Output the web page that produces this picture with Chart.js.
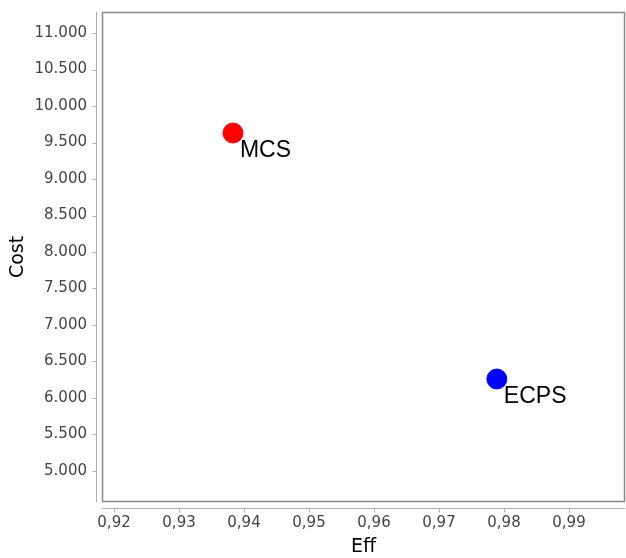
<!DOCTYPE html>
<html>
<head>
<meta charset="utf-8">
<script src="https://cdn.jsdelivr.net/npm/chart.js@4/dist/chart.umd.min.js"></script>
<style>
  html, body { margin: 0; padding: 0; background: #fff; }
  #wrap { width: 626px; height: 558px; }
</style>
</head>
<body>
<div id="wrap"><canvas id="chart" width="626" height="558"></canvas></div>
<script>
// Données
const seriesNames = ["MCS", "ECPS"];
const effValues = [0.9383, 0.9789];
const costValues = [9630, 6260];
const pointColors = ["#ff0000", "#0000ff"];
const xTicks = [0.92, 0.93, 0.94, 0.95, 0.96, 0.97, 0.98, 0.99];
const yTicks = [5000, 5500, 6000, 6500, 7000, 7500, 8000, 8500, 9000, 9500, 10000, 10500, 11000];

const fmtX = v => v.toFixed(2).replace(".", ",");
const fmtY = v => Math.round(v).toString().replace(/\B(?=(\d{3})+(?!\d))/g, ".");

// Cadre du graphe + axes décalés + étiquettes des points
const framePlugin = {
    id: "frame",
    afterDraw(chart) {
        const { ctx, chartArea: a, scales: { x, y } } = chart;
        ctx.save();
        // bordure du plot
        ctx.strokeStyle = "#8a8a8a";
        ctx.lineWidth = 1.5;
        ctx.strokeRect(a.left + 0.5, a.top + 0.5, a.right - a.left - 1, a.bottom - a.top - 1);

        // axe Y décalé
        ctx.strokeStyle = "#b0b0b0";
        ctx.lineWidth = 1;
        const ax = a.left - 5.5;
        ctx.beginPath();
        ctx.moveTo(ax, a.top);
        ctx.lineTo(ax, a.bottom);
        yTicks.forEach(v => {
            const py = Math.round(y.getPixelForValue(v)) + 0.5;
            ctx.moveTo(ax, py);
            ctx.lineTo(ax - 4, py);
        });
        // axe X décalé
        const ay = a.bottom + 6.5;
        ctx.moveTo(a.left, ay);
        ctx.lineTo(a.right, ay);
        xTicks.forEach(v => {
            const px = Math.round(x.getPixelForValue(v)) + 0.5;
            ctx.moveTo(px, ay);
            ctx.lineTo(px, ay + 4);
        });
        ctx.stroke();

        // étiquettes des séries
        const meta = chart.getDatasetMeta(0);
        ctx.fillStyle = "#000";
        ctx.font = "23px 'Liberation Sans', Arial, sans-serif";
        ctx.textAlign = "left";
        ctx.textBaseline = "middle";
        meta.data.forEach((pt, i) => {
            ctx.fillText(seriesNames[i], pt.x + 7, pt.y + 18);
        });
        ctx.restore();
    }
};

const tickFont = { family: "'DejaVu Sans', sans-serif", size: 15 };
const titleFont = { family: "'DejaVu Sans', sans-serif", size: 19 };

new Chart(document.getElementById("chart"), {
    type: "scatter",
    data: {
        datasets: [{
            label: "Series",
            data: effValues.map((v, i) => ({ x: v, y: costValues[i] })),
            backgroundColor: pointColors,
            borderColor: pointColors,
            pointRadius: 10,
            pointHoverRadius: 10,
        }]
    },
    options: {
        responsive: false,
        animation: false,
        layout: { autoPadding: false, padding: { top: 12, right: 1, left: 0, bottom: 0 } },
        plugins: { legend: { display: false }, tooltip: { enabled: false } },
        scales: {
            x: {
                type: "linear",
                min: 0.91815,
                max: 0.99862,
                afterBuildTicks: s => { s.ticks = xTicks.map(v => ({ value: v })); },
                afterFit: s => { s.height = 56; s.paddingLeft = 0; s.paddingRight = 0; },
                grid: { display: false, drawTicks: false },
                border: { display: false },
                ticks: { color: "#444", font: tickFont, padding: 12, maxRotation: 0, callback: v => fmtX(v) },
                title: { display: true, text: "Eff", color: "#000", font: titleFont, padding: { top: 0, bottom: 0 } }
            },
            y: {
                type: "linear",
                min: 4575,
                max: 11288,
                afterBuildTicks: s => { s.ticks = yTicks.map(v => ({ value: v })); },
                afterFit: s => { s.width = 102; s.paddingTop = 0; s.paddingBottom = 0; },
                grid: { display: false, drawTicks: false },
                border: { display: false },
                ticks: { color: "#444", font: tickFont, padding: 15, callback: v => fmtY(v) },
                title: { display: true, text: "Cost", color: "#000", font: titleFont, padding: { top: 7, bottom: 0 } }
            }
        }
    },
    plugins: [framePlugin]
});
</script>
</body>
</html>
